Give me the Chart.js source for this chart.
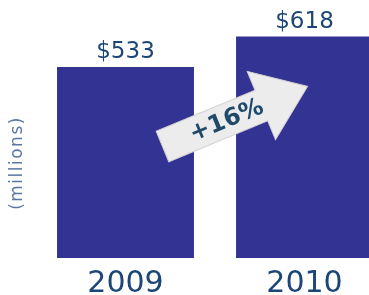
<!DOCTYPE html>
<html>
<head>
<meta charset="utf-8">
<script src="https://cdn.jsdelivr.net/npm/chart.js@4"></script>
<style>
  html, body { margin: 0; padding: 0; background: #fff; overflow: hidden; }
  #wrap { width: 400px; height: 295px; position: relative; }
</style>
</head>
<body>
<div id="wrap"><canvas id="revenue"></canvas></div>
<script>
const years = ["2009", "2010"];
const revenue = [533, 618];
const growthLabel = "+16%";
const unitLabel = "(millions)";

const barColor = "#333393";
const textColor = "#1c4677";

// "$533" style labels above each bar
const valueLabels = {
  id: "valueLabels",
  afterDatasetsDraw(chart) {
    const ctx = chart.ctx;
    const meta = chart.getDatasetMeta(0);
    ctx.save();
    ctx.font = "23px 'DejaVu Sans'";
    ctx.fillStyle = textColor;
    ctx.textAlign = "center";
    ctx.textBaseline = "alphabetic";
    meta.data.forEach((bar, i) => {
      ctx.fillText("$" + revenue[i], bar.x, bar.y - 9);
    });
    ctx.restore();
  }
};

// rotated unit label on the left
const unitText = {
  id: "unitText",
  afterDraw(chart) {
    const ctx = chart.ctx;
    ctx.save();
    ctx.translate(18, 163);
    ctx.rotate(-Math.PI / 2);
    ctx.font = "17px 'DejaVu Sans'";
    ctx.letterSpacing = "1.5px";
    ctx.fillStyle = "#5a78a3";
    ctx.textAlign = "center";
    ctx.textBaseline = "middle";
    ctx.fillText(unitLabel, 0, 0);
    ctx.restore();
  }
};

// growth arrow going from the first bar to the second
const growthArrow = {
  id: "growthArrow",
  afterDatasetsDraw(chart) {
    const ctx = chart.ctx;
    const meta = chart.getDatasetMeta(0);
    const a = meta.data[0];
    const x0 = a.x + 37, y0 = 146.5;
    const ang = -22.5 * Math.PI / 180;
    const len = 157, headStart = 107, shaftH = 16.5, headH = 37;
    ctx.save();
    ctx.translate(x0, y0);
    ctx.rotate(ang);
    ctx.beginPath();
    ctx.moveTo(0, -shaftH);
    ctx.lineTo(headStart, -shaftH);
    ctx.lineTo(headStart, -headH);
    ctx.lineTo(len, 0);
    ctx.lineTo(headStart, headH);
    ctx.lineTo(headStart, shaftH);
    ctx.lineTo(0, shaftH);
    ctx.closePath();
    ctx.fillStyle = "#ececec";
    ctx.fill();
    ctx.strokeStyle = "#d2d2d2";
    ctx.lineWidth = 1;
    ctx.stroke();
    ctx.font = "bold 24px 'DejaVu Sans'";
    ctx.fillStyle = "#1f4a6a";
    ctx.textAlign = "center";
    ctx.textBaseline = "middle";
    ctx.fillText(growthLabel, 69, 1);
    ctx.restore();
  }
};

new Chart(document.getElementById("revenue"), {
  type: "bar",
  data: {
    labels: years,
    datasets: [{
      data: revenue,
      backgroundColor: barColor,
      barPercentage: 0.765,
      categoryPercentage: 1
    }]
  },
  options: {
    responsive: true,
    maintainAspectRatio: false,
    animation: false,
    layout: { padding: { left: 36, right: 6, top: 0, bottom: 0 } },
    plugins: { legend: { display: false }, tooltip: { enabled: false } },
    scales: {
      x: {
        grid: { display: false },
        border: { display: false },
        afterFit: (scale) => { scale.height = 37; },
        ticks: {
          color: textColor,
          padding: 3,
          font: { family: "DejaVu Sans", size: 30, lineHeight: 1 }
        }
      },
      y: {
        display: false,
        min: 0,
        max: 720
      }
    }
  },
  plugins: [valueLabels, growthArrow, unitText]
});
</script>
</body>
</html>
